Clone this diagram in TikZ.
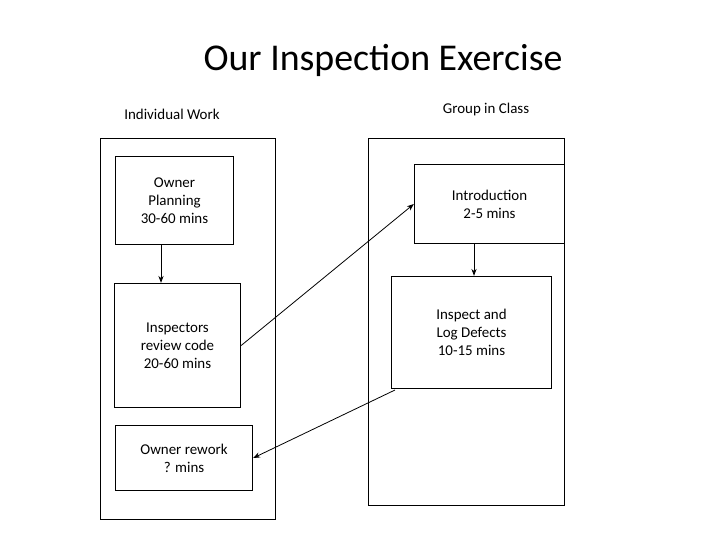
\documentclass[tikz,border=0pt]{standalone}
\usepackage{fontspec}
\setmainfont{Carlito}
\usetikzlibrary{arrows.meta}
\begin{document}
\begin{tikzpicture}[x=1bp,y=-1bp,
  box/.style={draw,thick,align=center,font=\fontsize{15}{18}\selectfont,inner sep=0},
  arr/.style={thick,-{Stealth[length=7pt]}}]
\useasboundingbox (0,0) rectangle (720,540);
\node (title) at (383,60) {\fontsize{38}{44}\selectfont Our Inspection Exercise};
\node (lw) at (172,114) {\fontsize{15}{18}\selectfont Individual Work};
\node (gc) at (486,110) {\fontsize{15}{18}\selectfont Group in Class};
\node[box,minimum width=176,minimum height=382] (L) at (188,329) {};
\node[box,minimum width=197,minimum height=368] (R) at (466.5,322) {};
\node[box,minimum width=119,minimum height=89] (op) at (174.5,200.5) {Owner\\Planning\\30-60 mins};
\node[box,minimum width=127,minimum height=125] (ir) at (177.5,345.5) {Inspectors\\review code\\20-60 mins};
\node[box,minimum width=138,minimum height=66] (or) at (184,458) {Owner rework\\? mins};
\node[box,minimum width=151,minimum height=80] (in) at (489.5,204) {Introduction\\2-5 mins};
\node[box,minimum width=161,minimum height=113] (il) at (471.5,332.5) {Inspect and\\Log Defects\\10-15 mins};
\draw[arr] (op.south -| 161,0) -- (ir.north -| 161,0);
\draw[arr] (in.south -| 474,0) -- (il.north -| 474,0);
\draw[arr] (ir.east) -- (in.west);
\coordinate (s) at (395,390);
\draw[arr] (s) -- (or.east);
\end{tikzpicture}
\end{document}
